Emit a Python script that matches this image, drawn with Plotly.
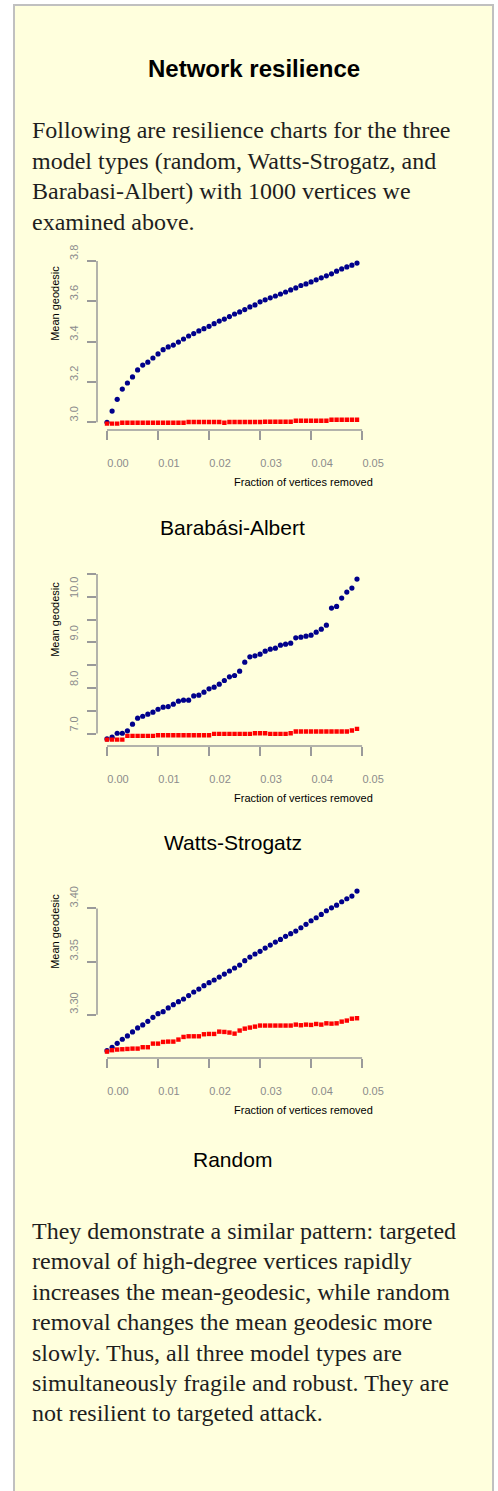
import plotly.graph_objects as go

W, H = 498, 1491

# Fraction of the 1000 vertices removed at each step
fraction_removed = [
    0.000, 0.001, 0.002, 0.003, 0.004, 0.005, 0.006, 0.007, 0.008, 0.009,
    0.010, 0.011, 0.012, 0.013, 0.014, 0.015, 0.016, 0.017, 0.018, 0.019,
    0.020, 0.021, 0.022, 0.023, 0.024, 0.025, 0.026, 0.027, 0.028, 0.029,
    0.030, 0.031, 0.032, 0.033, 0.034, 0.035, 0.036, 0.037, 0.038, 0.039,
    0.040, 0.041, 0.042, 0.043, 0.044, 0.045, 0.046, 0.047, 0.048, 0.049,
]

# Barabási-Albert: mean geodesic under targeted (high degree) and random removal
ba_targeted = [
    3.000, 3.056, 3.114, 3.165, 3.195, 3.225, 3.260, 3.284, 3.298, 3.319,
    3.339, 3.360, 3.374, 3.383, 3.398, 3.413, 3.428, 3.440, 3.453, 3.464,
    3.476, 3.489, 3.502, 3.512, 3.524, 3.537, 3.547, 3.559, 3.572, 3.582,
    3.597, 3.607, 3.617, 3.626, 3.636, 3.646, 3.656, 3.666, 3.678, 3.686,
    3.696, 3.706, 3.716, 3.726, 3.736, 3.749, 3.760, 3.770, 3.779, 3.789,
]
ba_random = [
    2.994, 2.994, 2.994, 2.998, 2.998, 2.998, 2.998, 2.998, 2.998, 2.998,
    2.998, 2.998, 2.998, 2.998, 2.998, 2.998, 3.002, 3.002, 3.002, 3.002,
    3.002, 3.002, 3.002, 2.998, 3.002, 3.002, 3.002, 3.002, 3.002, 3.002,
    3.002, 3.003, 3.003, 3.003, 3.003, 3.003, 3.003, 3.008, 3.008, 3.008,
    3.008, 3.008, 3.008, 3.008, 3.013, 3.013, 3.013, 3.013, 3.013, 3.013,
]

# Watts-Strogatz
ws_targeted = [
    6.883, 6.920, 7.007, 7.007, 7.060, 7.205, 7.337, 7.380, 7.425, 7.470,
    7.534, 7.578, 7.593, 7.644, 7.710, 7.732, 7.732, 7.827, 7.842, 7.908,
    7.981, 8.018, 8.083, 8.164, 8.245, 8.274, 8.369, 8.567, 8.684, 8.706,
    8.742, 8.808, 8.852, 8.874, 8.940, 8.962, 8.984, 9.101, 9.116, 9.138,
    9.160, 9.225, 9.291, 9.379, 9.753, 9.789, 9.972, 10.104, 10.192, 10.389,
]
ws_random = [
    6.868, 6.868, 6.868, 6.868, 6.949, 6.949, 6.949, 6.949, 6.949, 6.949,
    6.963, 6.963, 6.963, 6.963, 6.963, 6.963, 6.963, 6.963, 6.963, 6.963,
    6.963, 6.993, 6.993, 6.993, 6.993, 6.993, 6.993, 6.993, 6.993, 7.007,
    7.007, 7.007, 6.993, 6.993, 6.993, 6.993, 7.007, 7.044, 7.044, 7.044,
    7.044, 7.044, 7.044, 7.044, 7.044, 7.044, 7.044, 7.044, 7.066, 7.102,
]

# Random (Erdős-Rényi)
er_targeted = [
    3.2661, 3.2693, 3.2730, 3.2768, 3.2799, 3.2837, 3.2875, 3.2903, 3.2937, 3.2975,
    3.3009, 3.3028, 3.3063, 3.3094, 3.3122, 3.3147, 3.3179, 3.3213, 3.3241, 3.3273,
    3.3301, 3.3326, 3.3354, 3.3382, 3.3411, 3.3439, 3.3467, 3.3508, 3.3542, 3.3571,
    3.3596, 3.3627, 3.3655, 3.3683, 3.3708, 3.3737, 3.3762, 3.3787, 3.3818, 3.3850,
    3.3884, 3.3912, 3.3944, 3.3978, 3.4006, 3.4031, 3.4063, 3.4091, 3.4116, 3.4163,
]
er_random = [
    3.2652, 3.2665, 3.2671, 3.2674, 3.2677, 3.2680, 3.2680, 3.2693, 3.2693, 3.2727,
    3.2727, 3.2743, 3.2746, 3.2746, 3.2765, 3.2790, 3.2796, 3.2796, 3.2796, 3.2815,
    3.2818, 3.2818, 3.2840, 3.2837, 3.2831, 3.2821, 3.2850, 3.2868, 3.2878, 3.2887,
    3.2897, 3.2897, 3.2897, 3.2897, 3.2897, 3.2897, 3.2897, 3.2906, 3.2900, 3.2906,
    3.2903, 3.2912, 3.2906, 3.2918, 3.2915, 3.2918, 3.2934, 3.2944, 3.2962, 3.2966,
]

x_tick_values = [0.00, 0.01, 0.02, 0.03, 0.04, 0.05]
x_tick_labels = ["0.00", "0.01", "0.02", "0.03", "0.04", "0.05"]

ba_y_ticks = [3.0, 3.2, 3.4, 3.6, 3.8]
ba_y_labels = ["3.0", "3.2", "3.4", "3.6", "3.8"]
ws_y_ticks = [7.0, 7.5, 8.0, 8.5, 9.0, 9.5, 10.0, 10.5]
ws_y_labels = ["7.0", "", "8.0", "", "9.0", "", "10.0", ""]
er_y_ticks = [3.30, 3.35, 3.40]
er_y_labels = ["3.30", "3.35", "3.40"]

captions = ["Barabási-Albert", "Watts-Strogatz", "Random"]

heading = "Network resilience"
intro_lines = [
    "Following are resilience charts for the three",
    "model types (random, Watts-Strogatz, and",
    "Barabasi-Albert) with 1000 vertices we",
    "examined above.",
]
closing_lines = [
    "They demonstrate a similar pattern: targeted",
    "removal of high-degree vertices rapidly",
    "increases the mean-geodesic, while random",
    "removal changes the mean geodesic more",
    "slowly. Thus, all three model types are",
    "simultaneously fragile and robust. They are",
    "not resilient to targeted attack.",
]

# ---- styling ----
PAGE_BG = "#FFFFDD"
BORDER = "#C0C0C0"
AXIS_GREY = "#9A9A9A"
TICK_TEXT = "#8C8C8C"
BODY_TEXT = "#1E1E1E"
SANS = "Liberation Sans, Arial, sans-serif"
SERIF = "Liberation Serif, Times New Roman, serif"
TARGET_COLOR = "#00008B"
RANDOM_COLOR = "#FF0000"


def px_x(px):
    return px / W


def px_y(py):
    return 1 - py / H


def padded_range(values):
    lo, hi = min(values), max(values)
    pad = 0.04 * (hi - lo)
    return [lo - pad, hi + pad]


# label_shift moves the rotated y tick labels up along the axis
panels = [
    dict(targeted=ba_targeted, random=ba_random, yt=ba_y_ticks, yl=ba_y_labels,
         top=256.7, label_shift=-7, caption_y=527.5),
    dict(targeted=ws_targeted, random=ws_random, yt=ws_y_ticks, yl=ws_y_labels,
         top=572.7, label_shift=-8, caption_y=842.7),
    dict(targeted=er_targeted, random=er_random, yt=er_y_ticks, yl=er_y_labels,
         top=884.7, label_shift=-10, caption_y=1159.3),
]
PLOT_LEFT, PLOT_RIGHT, PLOT_H = 97.0, 367.0, 173.3

fig = go.Figure()
shapes = [
    dict(type="rect", xref="paper", yref="paper",
         x0=px_x(14), x1=px_x(493), y0=px_y(1500), y1=px_y(5),
         fillcolor=PAGE_BG, line=dict(color=BORDER, width=2), layer="below"),
]
annotations = [
    dict(text=heading, xref="paper", yref="paper", x=px_x(254), y=px_y(69),
         xanchor="center", yanchor="middle", showarrow=False,
         font=dict(family=SANS, size=24, color="#000000", weight="bold")),
]
for k, line in enumerate(intro_lines):
    annotations.append(dict(text=line, xref="paper", yref="paper",
                            x=px_x(30), y=px_y(130.5 + 30.4 * k),
                            xanchor="left", yanchor="middle", showarrow=False,
                            font=dict(family=SERIF, size=24, color=BODY_TEXT)))
for k, line in enumerate(closing_lines):
    annotations.append(dict(text=line, xref="paper", yref="paper",
                            x=px_x(30), y=px_y(1231 + 30.4 * k),
                            xanchor="left", yanchor="middle", showarrow=False,
                            font=dict(family=SERIF, size=24, color=BODY_TEXT)))

x_range = padded_range(fraction_removed)

for n, p in enumerate(panels, start=1):
    xa = "x" if n == 1 else f"x{n}"
    ya = "y" if n == 1 else f"y{n}"
    fig.add_trace(go.Scatter(
        x=fraction_removed, y=p["targeted"], mode="markers", xaxis=xa, yaxis=ya,
        marker=dict(symbol="circle", size=5.2, color=TARGET_COLOR, line=dict(width=0)),
        showlegend=False, hoverinfo="skip"))
    fig.add_trace(go.Scatter(
        x=fraction_removed, y=p["random"], mode="markers", xaxis=xa, yaxis=ya,
        marker=dict(symbol="square", size=4.4, color=RANDOM_COLOR, line=dict(width=0)),
        showlegend=False, hoverinfo="skip"))

    top = p["top"]
    bottom = top + PLOT_H
    y_range = padded_range(p["targeted"] + p["random"])
    sfx = "" if n == 1 else str(n)
    fig.layout[f"xaxis{sfx}"] = dict(
        domain=[px_x(PLOT_LEFT), px_x(PLOT_RIGHT)], range=x_range, anchor=ya,
        tickvals=x_tick_values, ticktext=x_tick_labels, automargin=False,
        ticks="outside", ticklen=9, tickwidth=1.5, tickcolor=AXIS_GREY,
        tickfont=dict(family=SANS, size=11, color=TICK_TEXT),
        ticklabelshift=11, ticklabelstandoff=14,
        showgrid=False, zeroline=False, showline=False, fixedrange=True)
    fig.layout[f"yaxis{sfx}"] = dict(
        domain=[px_y(bottom), px_y(top)], range=y_range, anchor=xa,
        tickvals=p["yt"], ticktext=p["yl"], tickangle=-90, automargin=False,
        ticks="outside", ticklen=9, tickwidth=1.5, tickcolor=AXIS_GREY,
        tickfont=dict(family=SANS, size=11, color=TICK_TEXT),
        ticklabelshift=p["label_shift"], ticklabelstandoff=5,
        showgrid=False, zeroline=False, showline=False, fixedrange=True)

    # detached axis lines spanning first to last tick
    shapes.append(dict(type="line", xref=xa, yref=f"{ya} domain",
                       x0=x_tick_values[0], x1=x_tick_values[-1], y0=0, y1=0,
                       line=dict(color=AXIS_GREY, width=1.5)))
    shapes.append(dict(type="line", xref=f"{xa} domain", yref=ya,
                       x0=0, x1=0, y0=p["yt"][0], y1=p["yt"][-1],
                       line=dict(color=AXIS_GREY, width=1.5)))

    annotations.append(dict(text="Mean geodesic", xref=f"{xa} domain", yref=f"{ya} domain",
                            x=0, y=0.5, xshift=-42, xanchor="center", yanchor="bottom",
                            textangle=-90, showarrow=False,
                            font=dict(family=SANS, size=11, color="#000000")))
    annotations.append(dict(text="Fraction of vertices removed", xref=f"{xa} domain",
                            yref=f"{ya} domain", x=0.5, y=0, yshift=-52.3,
                            xanchor="left", yanchor="middle", showarrow=False,
                            font=dict(family=SANS, size=11, color="#000000")))
    annotations.append(dict(text=captions[n - 1], xref="paper", yref="paper",
                            x=px_x(232.5), y=px_y(p["caption_y"]),
                            xanchor="center", yanchor="middle", showarrow=False,
                            font=dict(family=SANS, size=21, color="#000000")))

fig.update_layout(
    width=W, height=H, autosize=False,
    margin=dict(l=0, r=0, t=0, b=0, pad=0, autoexpand=False),
    paper_bgcolor="#FFFFFF", plot_bgcolor="rgba(0,0,0,0)",
    shapes=shapes, annotations=annotations, showlegend=False,
)

fig.write_html("out.html", config={"displayModeBar": False, "responsive": False})
